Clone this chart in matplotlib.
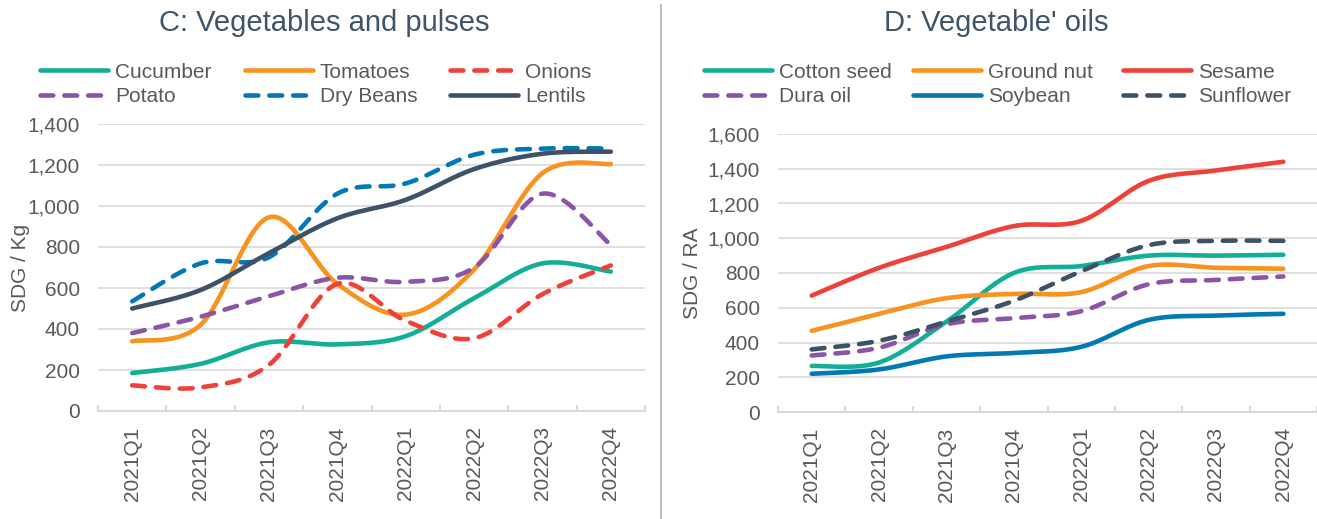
import numpy as np
import matplotlib
matplotlib.use('Agg')
import matplotlib.pyplot as plt
from matplotlib.lines import Line2D

plt.rcParams['font.family'] = ['Liberation Sans', 'DejaVu Sans']

quarters = ['2021Q1', '2021Q2', '2021Q3', '2021Q4', '2022Q1', '2022Q2', '2022Q3', '2022Q4']

# panel C: vegetables and pulses (SDG / Kg)
cucumber = [185, 230, 335, 325, 365, 550, 720, 680]
tomatoes = [340, 420, 945, 620, 470, 690, 1160, 1205]
onions = [125, 115, 225, 620, 440, 355, 570, 710]
potato = [380, 460, 560, 650, 630, 700, 1060, 810]
dry_beans = [535, 720, 750, 1060, 1110, 1250, 1280, 1280]
lentils = [500, 590, 770, 940, 1030, 1180, 1255, 1265]

# panel D: vegetable oils (SDG / RA)
cotton_seed = [265, 285, 520, 800, 840, 900, 900, 905]
ground_nut = [467, 565, 655, 680, 690, 840, 830, 825]
sesame = [670, 830, 950, 1070, 1100, 1330, 1390, 1440]
dura_oil = [325, 370, 505, 540, 580, 735, 760, 780]
soybean = [220, 245, 320, 340, 375, 530, 555, 565]
sunflower = [360, 410, 520, 640, 810, 960, 985, 985]

TEAL = '#13AE96'
ORANGE = '#F7931E'
RED = '#EE4139'
PURPLE = '#8B54A6'
BLUE = '#0278B5'
DARK = '#3D5266'
TITLE_COL = '#3E5569'
TEXT_COL = '#595959'
GRID_COL = '#D9D9D9'

SOLID = 'solid'
DASH = (0, (2.8, 2.4))
LW = 3.3

FIG_W, FIG_H = 1317, 519


def smooth(y, n=30):
    """Excel-like smoothed line (Catmull-Rom bezier through the data points)."""
    pts = np.column_stack([np.arange(len(y)), np.asarray(y, dtype=float)])
    P = np.vstack([pts[0], pts, pts[-1]])
    t = np.linspace(0, 1, n)[:, None]
    out = []
    for i in range(len(pts) - 1):
        p0, p1, p2, p3 = P[i], P[i + 1], P[i + 2], P[i + 3]
        c1 = p1 + (p2 - p0) / 6
        c2 = p2 - (p3 - p1) / 6
        seg = (1 - t) ** 3 * p1 + 3 * (1 - t) ** 2 * t * c1 + 3 * (1 - t) * t ** 2 * c2 + t ** 3 * p2
        out.append(seg if i == 0 else seg[1:])
    return np.vstack(out)


def draw_panel(ax, series, ymax, ystep, ylabel, label_x, title, title_x, legend_x):
    for name, vals, color, ls in series:
        xy = smooth(vals)
        ax.plot(xy[:, 0], xy[:, 1], color=color, linestyle=ls, lw=LW,
                solid_capstyle='round', dash_capstyle='round')

    ax.set_xlim(-0.5, len(quarters) - 0.5)
    ax.set_ylim(0, ymax)
    yt = np.arange(0, ymax + 1, ystep)
    ax.set_yticks(yt)
    ax.set_yticklabels(['{:,}'.format(v) for v in yt])
    ax.yaxis.grid(True, color=GRID_COL, lw=1.2)
    ax.set_axisbelow(True)
    for s in ['left', 'right', 'top']:
        ax.spines[s].set_visible(False)
    ax.spines['bottom'].set_color(GRID_COL)
    ax.spines['bottom'].set_linewidth(1.5)

    ax.set_xticks(range(len(quarters)))
    ax.set_xticklabels(quarters, rotation=90)
    ax.set_xticks(np.arange(-0.5, len(quarters)), minor=True)
    ax.tick_params(axis='x', which='major', length=0, pad=11, labelsize=15, labelcolor=TEXT_COL)
    ax.tick_params(axis='x', which='minor', direction='in', length=4.5, width=1.5, color=GRID_COL)
    ax.tick_params(axis='y', length=0, pad=13, labelsize=15, labelcolor=TEXT_COL)

    ax.set_ylabel(ylabel, fontsize=15, color=TEXT_COL)
    ax.yaxis.set_label_coords(label_x, 0.5)

    fig.text(title_x / FIG_W, 1 - 23 / FIG_H, title, ha='center', va='center',
             fontsize=21, color=TITLE_COL)

    # legend: 3 columns x 2 rows, row-major order like the source
    for c in range(3):
        items = [series[c], series[c + 3]]
        handles = [Line2D([], [], color=col, linestyle=ls, lw=LW,
                          solid_capstyle='round', dash_capstyle='round')
                   for _, _, col, ls in items]
        labels = [name for name, _, _, _ in items]
        leg = fig.legend(handles, labels, loc='center left',
                         bbox_to_anchor=((legend_x[c] + 2) / FIG_W, 1 - 84.5 / FIG_H),
                         frameon=False, fontsize=15, handlelength=3.27,
                         handletextpad=0.33, labelspacing=0.27,
                         borderaxespad=0, borderpad=0)
        for txt in leg.get_texts():
            txt.set_color(TEXT_COL)


fig = plt.figure(figsize=(FIG_W / 100, FIG_H / 100), dpi=100)

ax_c = fig.add_axes([98 / FIG_W, 1 - 411 / FIG_H, (645 - 98) / FIG_W, (411 - 124) / FIG_H])
ax_d = fig.add_axes([778 / FIG_W, 1 - 412 / FIG_H, (1317 - 778) / FIG_W, (412 - 134) / FIG_H])

series_c = [
    ('Cucumber', cucumber, TEAL, SOLID),
    ('Tomatoes', tomatoes, ORANGE, SOLID),
    ('Onions', onions, RED, DASH),
    ('Potato', potato, PURPLE, DASH),
    ('Dry Beans', dry_beans, BLUE, DASH),
    ('Lentils', lentils, DARK, SOLID),
]
series_d = [
    ('Cotton seed', cotton_seed, TEAL, SOLID),
    ('Ground nut', ground_nut, ORANGE, SOLID),
    ('Sesame', sesame, RED, SOLID),
    ('Dura oil', dura_oil, PURPLE, DASH),
    ('Soybean', soybean, BLUE, SOLID),
    ('Sunflower', sunflower, DARK, DASH),
]

draw_panel(ax_c, series_c, 1400, 200, 'SDG / Kg', -0.124, 'C: Vegetables and pulses', 324, [38, 243, 448])
draw_panel(ax_d, series_d, 1600, 200, 'SDG / RA', -0.141, "D: Vegetable' oils", 996, [702, 911, 1121])

# vertical divider between the panels
fig.add_artist(Line2D([661 / FIG_W, 661 / FIG_W], [0, 1 - 5 / FIG_H], transform=fig.transFigure,
                      color='#BFBFBF', lw=1.5))

fig.savefig('out.png', dpi=100)
